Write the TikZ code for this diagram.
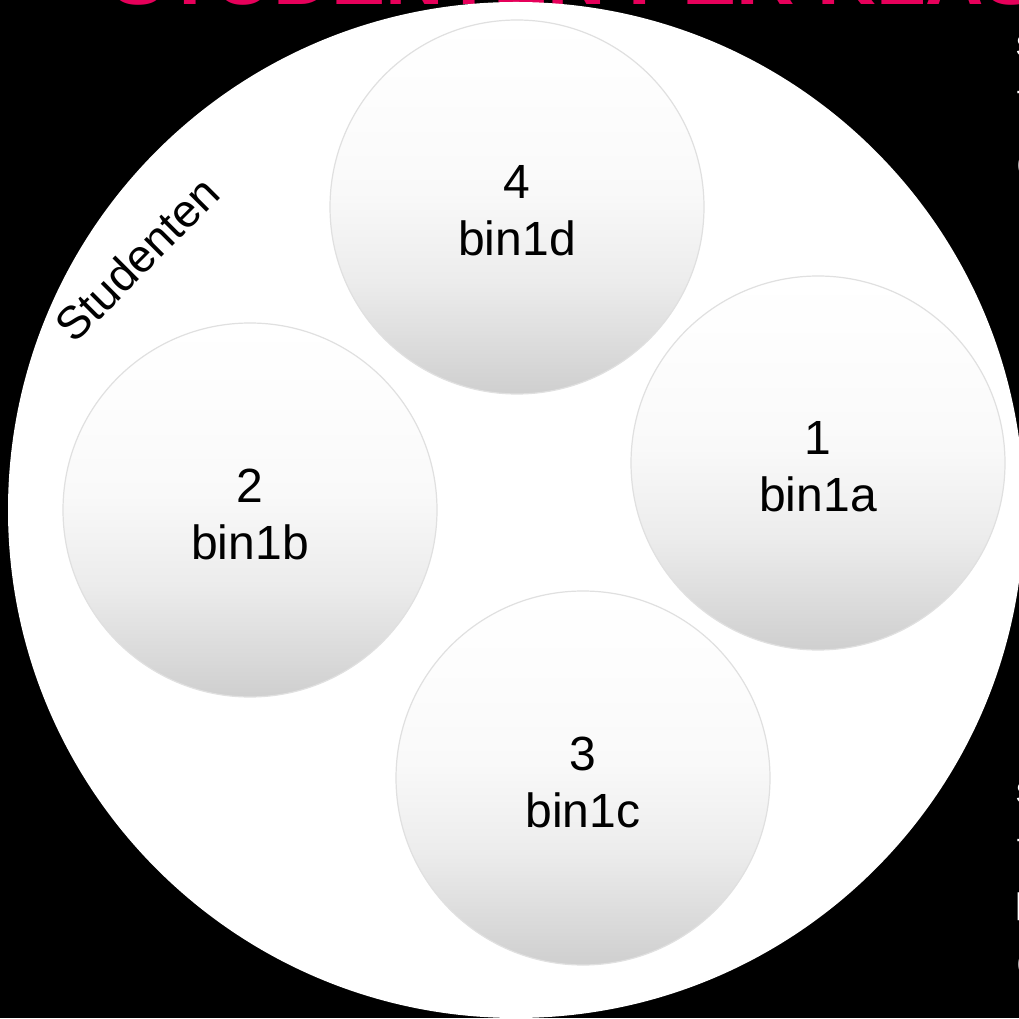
\documentclass[tikz,border=0pt]{standalone}
\usepackage{fontspec}
\setmainfont{Liberation Sans}
\definecolor{titlepink}{RGB}{230,0,90}
\definecolor{bordergray}{RGB}{224,224,224}
\definecolor{botgray}{RGB}{207,207,207}
\pgfdeclareverticalshading{binshade}{100bp}{%
  color(0bp)=(botgray); color(25bp)=(botgray);
  color(40bp)=(rgb,255:red,236;green,236;blue,236);
  color(52bp)=(rgb,255:red,249;green,249;blue,249);
  color(65bp)=(rgb,255:red,253;green,253;blue,253);
  color(75bp)=(white); color(100bp)=(white)}
\begin{document}
\begin{tikzpicture}[x=1pt,y=1pt,
  bin/.style={circle, minimum size=374pt, inner sep=0pt, draw=bordergray, line width=1.2pt,
    shading=binshade},
  bintext/.style={inner sep=0pt, align=center, text=black, font=\fontsize{48}{57}\selectfont},
  frag/.style={anchor=base west, inner sep=0pt, text=white, font=\fontsize{30}{36}\selectfont},
]
\useasboundingbox (0,0) rectangle (1019,1018);
\fill[black] (0,0) rectangle (1019,1018);
% title, mostly outside the page
\node[anchor=base west, inner sep=0pt, text=titlepink, font=\fontsize{81}{90}\selectfont\bfseries] (title) at (111,1013.5) {STUDENTEN PER KLAS};
% text fragments at the right edge
\node[frag] (f1) at (1015.5,961) {S};
\node[frag] (f2) at (1016,917) {-};
\node[frag] (f3) at (1016.5,844) {(};
\node[frag] (f4) at (1015.5,215) {S};
\node[frag] (f5) at (1016,170) {-};
\node[frag] (f6) at (1015.5,104) {[};
\node[frag] (f7) at (1016.5,46) {(};
% outer circle
\node[circle, fill=white, minimum size=1016pt, inner sep=0pt] (outer) at (516,508) {};
\node[rotate=45, inner sep=0pt, font=\fontsize{46}{54}\selectfont] (lbl) at (137,759) {Studenten};
% class circles
\node[bin] (d) at (517,811) {};
\node[bin] (a) at (818,555) {};
\node[bin] (b) at (250,508) {};
\node[bin] (c) at (583,240) {};
\node[bintext] (dt) at ([yshift=-4pt]d.center) {4\\bin1d};
\node[bintext] (at) at ([yshift=-4pt]a.center) {1\\bin1a};
\node[bintext] (bt) at ([yshift=-4pt]b.center) {2\\bin1b};
\node[bintext] (ct) at ([yshift=-4pt]c.center) {3\\bin1c};
\end{tikzpicture}
\end{document}
